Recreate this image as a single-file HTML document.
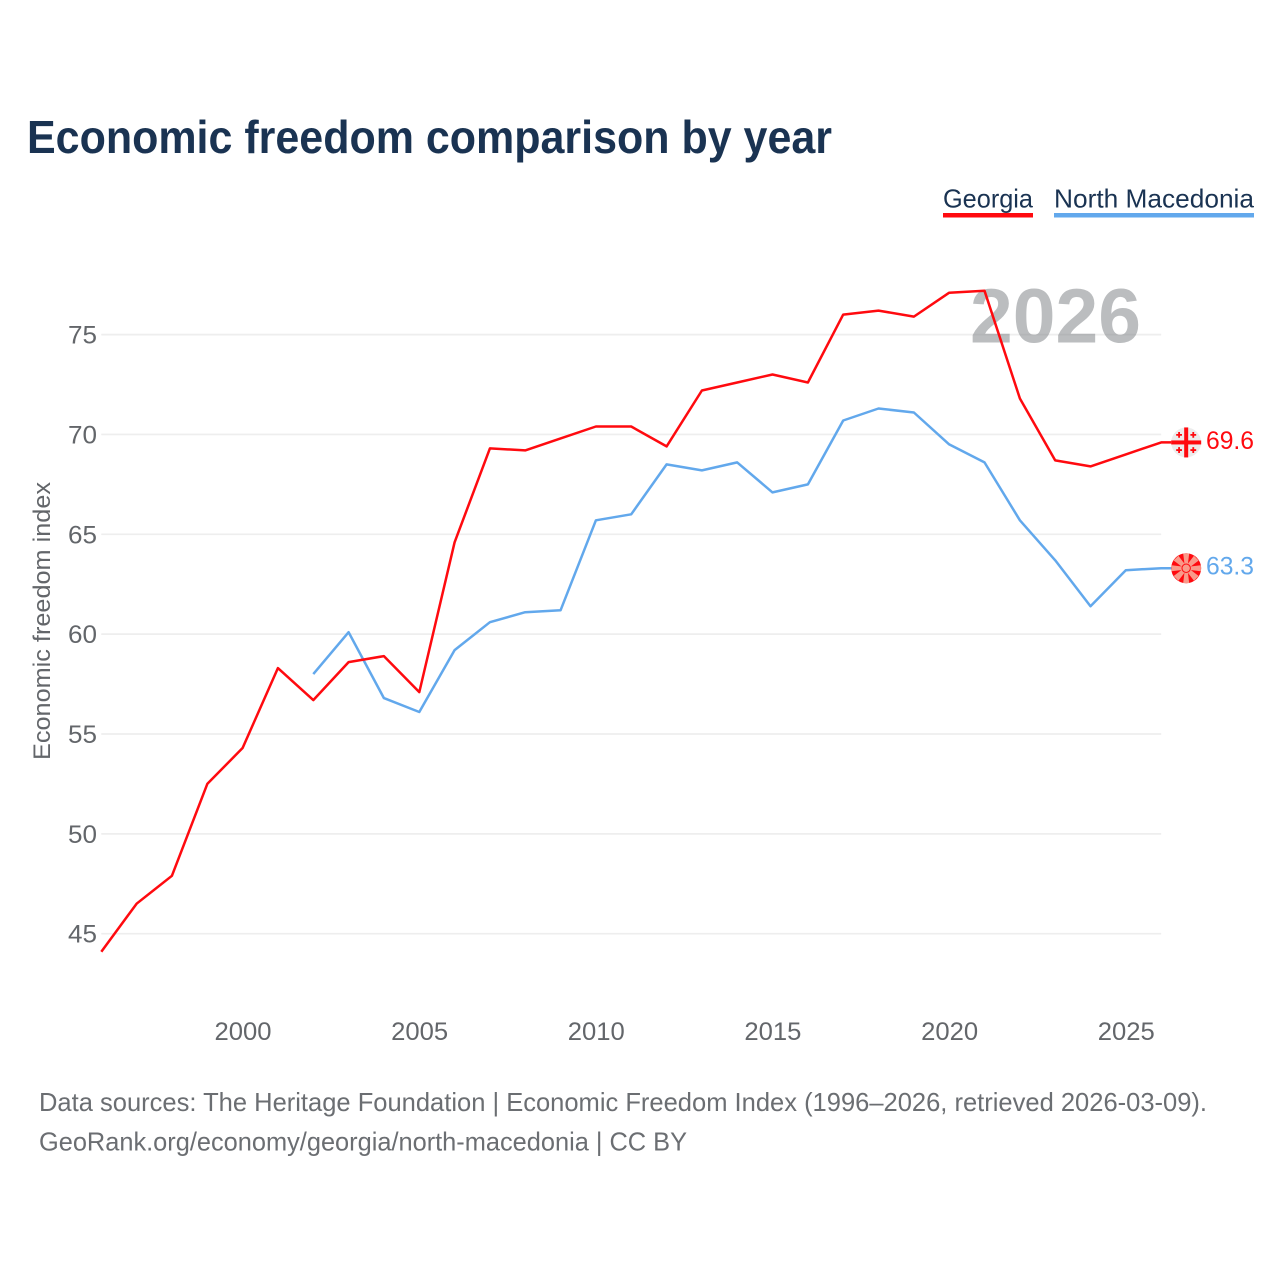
<!DOCTYPE html>
<html lang="en">
<head>
<meta charset="utf-8">
<title>Economic freedom comparison by year</title>
<style>
html,body{margin:0;padding:0;background:#fff;width:1280px;height:1280px;overflow:hidden}
svg{display:block}
text{font-family:"Liberation Sans",sans-serif}
</style>
</head>
<body>
<svg id="chart" xmlns="http://www.w3.org/2000/svg" width="1280" height="1280" viewBox="0 0 1280 1280">
  <rect width="1280" height="1280" fill="#fff"/>
  <text x="27" y="153" font-size="46" font-weight="700" fill="#1a3352" textLength="805" lengthAdjust="spacingAndGlyphs">Economic freedom comparison by year</text>

  <g>
    <g>
      <text x="943" y="207.5" font-size="26" fill="#1a3352" textLength="90" lengthAdjust="spacingAndGlyphs">Georgia</text>
      <rect x="943" y="213" width="90" height="4.5" fill="#ff0a0f"/>
    </g>
    <g>
      <text x="1054" y="207.5" font-size="26" fill="#1a3352" textLength="200" lengthAdjust="spacingAndGlyphs">North Macedonia</text>
      <rect x="1054" y="213" width="200" height="4.5" fill="#62a8ec"/>
    </g>
  </g>

  <g id="grid"></g>
  <text x="970" y="342.5" font-size="77" font-weight="700" fill="#84878b" fill-opacity="0.55" textLength="171" lengthAdjust="spacingAndGlyphs">2026</text>
  <g id="yticks"></g>
  <g id="xticks"></g>
  <text transform="translate(50,760) rotate(-90)" font-size="24.5" fill="#63666a" textLength="278" lengthAdjust="spacingAndGlyphs">Economic freedom index</text>
  <g id="series"></g>

  <g id="flag-georgia">
    <circle r="15" fill="#ececec"/>
    <rect x="-2" y="-15" width="4" height="30" fill="#ff0a0f"/>
    <rect x="-15" y="-2" width="30" height="4" fill="#ff0a0f"/>
    <path fill="#ff0a0f" d="M-8-10.5h1.8v2h2v1.8h-2v2h-1.8v-2h-2v-1.8h2zM6.2-10.5h1.8v2h2v1.8h-2v2h-1.8v-2h-2v-1.8h2zM-8 4.7h1.8v2h2v1.8h-2v2h-1.8v-2h-2v-1.8h2zM6.2 4.7h1.8v2h2v1.8h-2v2h-1.8v-2h-2v-1.8h2z"/>
  </g>
  <g id="flag-macedonia">
    <circle r="15" fill="#ff0a0f"/>
    <path fill="#f99a8a" d="M-3-14.7h6L1.2 0h-2.4zM-3 14.7h6L1.2 0h-2.4zM-14.7-3v6L0 1.2v-2.4zM14.7-3v6L0 1.2v-2.4zM-12.5-7.8L-7.8-12.5 1 -1-1 1zM12.5 7.8L7.8 12.5-1 1 1-1zM12.5-7.8L7.8-12.5-1-1 1 1zM-12.5 7.8L-7.8 12.5 1 1-1-1z"/>
    <circle r="4.2" fill="#f99a8a" stroke="#ff0a0f" stroke-width="1"/>
  </g>

  <text id="val-georgia" x="1206" font-size="25" fill="#ff0a0f" textLength="48" lengthAdjust="spacingAndGlyphs"></text>
  <text id="val-macedonia" x="1206" font-size="25" fill="#62a8ec" textLength="48" lengthAdjust="spacingAndGlyphs"></text>

  <g>
    <text x="39" y="1111" font-size="26" fill="#6b6e72" textLength="1168" lengthAdjust="spacingAndGlyphs">Data sources: The Heritage Foundation | Economic Freedom Index (1996–2026, retrieved 2026-03-09).</text>
    <text x="39" y="1150.5" font-size="26" fill="#6b6e72" textLength="648" lengthAdjust="spacingAndGlyphs">GeoRank.org/economy/georgia/north-macedonia | CC BY</text>
  </g>
</svg>
<script>
const years = [1996,1997,1998,1999,2000,2001,2002,2003,2004,2005,2006,2007,2008,2009,2010,2011,2012,2013,2014,2015,2016,2017,2018,2019,2020,2021,2022,2023,2024,2025,2026];
const georgiaValues = [44.1,46.5,47.9,52.5,54.3,58.3,56.7,58.6,58.9,57.1,64.6,69.3,69.2,69.8,70.4,70.4,69.4,72.2,72.6,73.0,72.6,76.0,76.2,75.9,77.1,77.2,71.8,68.7,68.4,69.0,69.6];
const macedoniaValues = [null,null,null,null,null,null,58.0,60.1,56.8,56.1,59.2,60.6,61.1,61.2,65.7,66.0,68.5,68.2,68.6,67.1,67.5,70.7,71.3,71.1,69.5,68.6,65.7,63.7,61.4,63.2,63.3];
const yTickValues = [45,50,55,60,65,70,75];
const xTickValues = [2000,2005,2010,2015,2020,2025];

const NS = 'http://www.w3.org/2000/svg';
const xScale = function (year) { return 242.6 + (year - 2000) * 35.33; };
const yScale = function (value) { return 334.6 + (75 - value) * 19.97; };
const plotLeft = xScale(years[0]);
const plotRight = xScale(years[years.length - 1]);
const flagX = plotRight + 25;

function make(tag, parentId, attrs, content) {
  const el = document.createElementNS(NS, tag);
  Object.keys(attrs).forEach(function (k) { el.setAttribute(k, attrs[k]); });
  if (content !== undefined) el.textContent = content;
  document.getElementById(parentId).appendChild(el);
  return el;
}

yTickValues.forEach(function (v) {
  const line = make('line', 'grid', {x1: plotLeft, x2: plotRight, y1: yScale(v), y2: yScale(v), stroke: '#eeeeee', 'stroke-width': 1.7});
  
  
  const label = make('text', 'yticks', {x: 97, y: yScale(v) + 9, 'text-anchor': 'end', 'font-size': 25, fill: '#63666a', textLength: 29, lengthAdjust: 'spacingAndGlyphs'}, String(v));
  
  
});

xTickValues.forEach(function (v) {
  const label = make('text', 'xticks', {x: xScale(v) + 0.4, y: 1040, 'text-anchor': 'middle', 'font-size': 25, fill: '#63666a', textLength: 57, lengthAdjust: 'spacingAndGlyphs'}, String(v));
  
  
});

function drawSeries(values, color) {
  const pts = [];
  values.forEach(function (v, i) {
    if (v !== null) pts.push(xScale(years[i]).toFixed(1) + ',' + yScale(v).toFixed(1));
  });
  const last = values[values.length - 1];
  pts.push(flagX.toFixed(1) + ',' + yScale(last).toFixed(1));
  return make('polyline', 'series', {points: pts.join(' '), fill: 'none', stroke: color, 'stroke-width': 2.5, 'stroke-linejoin': 'round'});
}

const macedoniaLine = drawSeries(macedoniaValues, '#62a8ec');


const georgiaLine = drawSeries(georgiaValues, '#ff0a0f');



const lastGeorgia = georgiaValues[georgiaValues.length - 1];
const lastMacedonia = macedoniaValues[macedoniaValues.length - 1];
document.getElementById('flag-georgia').setAttribute('transform', 'translate(' + flagX + ',' + yScale(lastGeorgia) + ')');
document.getElementById('flag-macedonia').setAttribute('transform', 'translate(' + flagX + ',' + yScale(lastMacedonia) + ')');
const valG = document.getElementById('val-georgia');
valG.textContent = lastGeorgia.toFixed(1);
valG.setAttribute('y', yScale(lastGeorgia) + 6.5);
const valM = document.getElementById('val-macedonia');
valM.textContent = lastMacedonia.toFixed(1);
valM.setAttribute('y', yScale(lastMacedonia) + 6.5);
</script>
</body>
</html>
